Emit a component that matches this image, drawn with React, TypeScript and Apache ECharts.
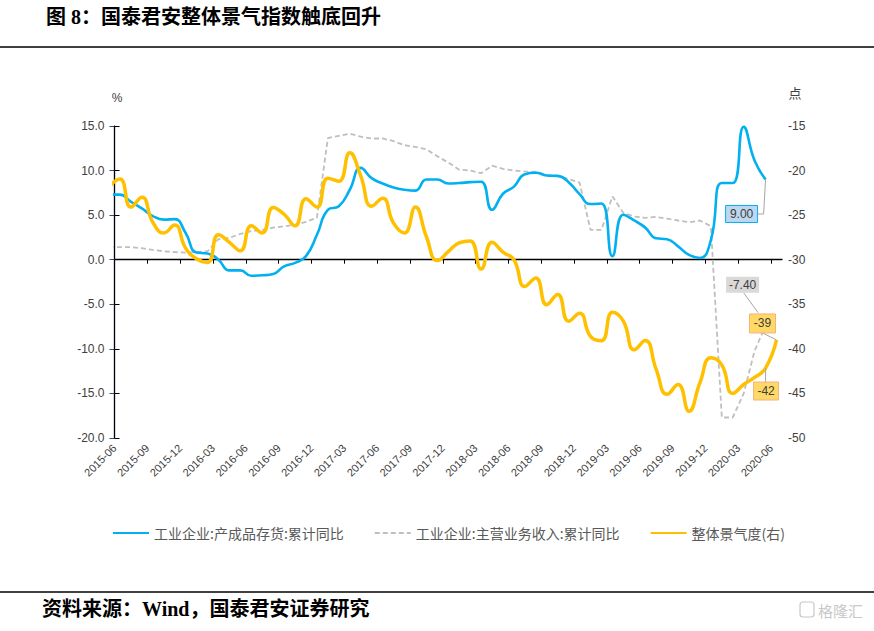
import React, { useEffect, useRef } from 'react';
import * as echarts from 'echarts';

// Axis tick labels (every 3 months)
const tickLabels = [
  '2015-06', '2015-09', '2015-12', '2016-03', '2016-06', '2016-09', '2016-12',
  '2017-03', '2017-06', '2017-09', '2017-12', '2018-03', '2018-06', '2018-09',
  '2018-12', '2019-03', '2019-06', '2019-09', '2019-12', '2020-03', '2020-06',
];

// Monthly categories, 2015-05 .. 2020-06
const months = [
  '2015-05', '2015-06', '2015-07', '2015-08', '2015-09', '2015-10', '2015-11', '2015-12',
  '2016-01', '2016-02', '2016-03', '2016-04', '2016-05', '2016-06', '2016-07', '2016-08', '2016-09', '2016-10', '2016-11', '2016-12',
  '2017-01', '2017-02', '2017-03', '2017-04', '2017-05', '2017-06', '2017-07', '2017-08', '2017-09', '2017-10', '2017-11', '2017-12',
  '2018-01', '2018-02', '2018-03', '2018-04', '2018-05', '2018-06', '2018-07', '2018-08', '2018-09', '2018-10', '2018-11', '2018-12',
  '2019-01', '2019-02', '2019-03', '2019-04', '2019-05', '2019-06', '2019-07', '2019-08', '2019-09', '2019-10', '2019-11', '2019-12',
  '2020-01', '2020-02', '2020-03', '2020-04', '2020-05', '2020-06',
];

// 工业企业:产成品存货:累计同比 (%), 2015-05 .. 2020-05
const inventoryYoY = [
  7.3, 7.3, 6.5, 5.75, 4.9, 4.5, 4.55, 3.0,
  0.8, 0.7, 0.0, -1.2, -1.2, -1.8, -1.75, -1.6, -0.75, -0.35, 0.4, 2.8,
  5.6, 6.0, 7.85, 10.3, 9.15, 8.55, 8.1, 7.85, 7.75, 9.0, 9.0, 8.55,
  8.6, 8.7, 8.75, 5.6, 7.4, 8.2, 9.6, 9.75, 9.45, 9.4, 8.7, 7.35,
  6.25, 6.3, 0.4, 5.05, 4.4, 3.6, 2.4, 2.3, 1.5, 0.55, 0.2, 2.2,
  8.6, 8.6, 14.9, 11.1, 9.0,
];

// 工业企业:主营业务收入:累计同比 (%), 2015-05 .. 2020-05
const revenueYoY = [
  1.42, 1.42, 1.4, 1.3, 1.1, 0.95, 0.85, 0.8,
  0.85, 0.95, 2.3, 2.45, 2.9, 3.2, 3.35, 3.6, 3.75, 3.9, 4.25, 4.7,
  13.65, 13.9, 14.15, 13.8, 13.6, 13.6, 13.3, 12.85, 12.65, 12.4, 11.6, 10.9,
  10.1, 10.0, 9.7, 10.55, 10.2, 10.0, 9.9, 9.85, 9.5, 9.4, 9.05, 8.65,
  3.35, 3.35, 7.1, 5.25, 4.85, 4.7, 4.8, 4.6, 4.4, 4.2, 4.4, 3.75,
  -17.7, -17.7, -15.0, -10.2, -7.4,
];

// 整体景气度 (右轴, 点), 2015-05 .. 2020-06
const prosperity = [
  -21.8, -20.95, -24.1, -23.0, -25.8, -27.0, -26.1, -28.7,
  -29.9, -30.3, -27.2, -28.05, -29.0, -26.2, -27.0, -24.15, -24.9, -26.2, -23.15, -24.1,
  -20.85, -21.2, -18.0, -20.6, -24.0, -23.1, -25.9, -27.0, -24.1, -27.4, -30.1, -29.1,
  -28.1, -27.9, -31.05, -28.05, -29.15, -30.0, -33.0, -32.05, -35.05, -33.9, -36.9, -36.0,
  -38.6, -39.1, -35.9, -36.9, -40.1, -39.05, -42.3, -45.1, -44.0, -47.0, -43.8, -41.0,
  -41.8, -45.0, -44.0, -43.2, -42.15, -39.0,
];

const seriesNames = ['工业企业:产成品存货:累计同比', '工业企业:主营业务收入:累计同比', '整体景气度(右)'];

// x position of a month: centred within its month (index 0 = 2015-05)
const pos = (k: number) => k - 0.5;
const tickValues = tickLabels.map((_, k) => k * 3);

export default function App() {
  const ref = useRef<HTMLDivElement>(null);

  useEffect(() => {
    if (!ref.current) return;
    const chart = echarts.init(ref.current, undefined, { renderer: 'svg' });

    const toPairs = (arr: number[]) => arr.map((v, k) => [pos(k), v]);
    const axisFont = "'Liberation Sans', Arial, sans-serif";
    const cjkFont = "'Noto Sans CJK SC', sans-serif";
    const titleFont = "'Liberation Serif', 'Noto Sans CJK SC', serif";

    const option: any = {
      animation: false,
      backgroundColor: '#ffffff',
      grid: { left: 114.5, right: 92, top: 126, bottom: 193, containLabel: false },
      legend: {
        top: 526,
        left: 112,
        padding: 0,
        itemWidth: 36,
        itemHeight: 14,
        itemGap: 30,
        itemStyle: { opacity: 0 },
        textStyle: { fontSize: 14, color: '#595959', fontFamily: cjkFont },
        data: seriesNames,
      },
      xAxis: [
        {
          type: 'value',
          min: 0,
          max: 61,
          position: 'bottom',
          axisLine: { show: true, onZero: true, onZeroAxisIndex: 0, lineStyle: { color: '#000000', width: 1.3 } },
          axisTick: { show: true, inside: false, length: 4, customValues: tickValues, lineStyle: { color: '#000000' } },
          axisLabel: { show: false },
          splitLine: { show: false },
        },
        {
          type: 'value',
          min: 0,
          max: 61,
          position: 'bottom',
          axisLine: { show: false, onZero: false },
          axisTick: { show: false },
          axisLabel: {
            show: true,
            rotate: 45,
            customValues: tickValues,
            formatter: (v: number) => tickLabels[Math.round(v / 3)] ?? '',
            fontSize: 11,
            color: '#404040',
            fontFamily: axisFont,
            margin: 8,
          },
          splitLine: { show: false },
        },
      ],
      yAxis: [
        {
          type: 'value',
          min: -20,
          max: 15,
          interval: 5,
          position: 'left',
          axisLine: { show: true, lineStyle: { color: '#2F4B7C', width: 1.2 } },
          axisTick: { show: true, length: 5, lineStyle: { color: '#2F4B7C' } },
          axisLabel: { formatter: (v: number) => v.toFixed(1), fontSize: 12, color: '#404040', fontFamily: axisFont, margin: 10 },
          splitLine: { show: false },
        },
        {
          type: 'value',
          min: -50,
          max: -15,
          interval: 5,
          position: 'right',
          axisLine: { show: true, lineStyle: { color: '#000000', width: 1.2 } },
          axisTick: { show: true, length: 5, lineStyle: { color: '#000000' } },
          axisLabel: { fontSize: 12, color: '#404040', fontFamily: axisFont, margin: 6 },
          splitLine: { show: false },
        },
      ],
      series: [
        {
          name: seriesNames[1],
          type: 'line',
          xAxisIndex: 0,
          yAxisIndex: 0,
          data: toPairs(revenueYoY),
          symbol: 'none',
          showSymbol: false,
          lineStyle: { color: '#BFBFBF', width: 1.8, type: [5, 3] },
          itemStyle: { color: '#BFBFBF' },
          z: 2,
        },
        {
          name: seriesNames[0],
          type: 'line',
          xAxisIndex: 0,
          yAxisIndex: 0,
          data: toPairs(inventoryYoY),
          smooth: 0.5,
          symbol: 'none',
          showSymbol: false,
          lineStyle: { color: '#00B0F0', width: 2.6 },
          itemStyle: { color: '#00B0F0' },
          z: 3,
        },
        {
          name: seriesNames[2],
          type: 'line',
          xAxisIndex: 0,
          yAxisIndex: 1,
          data: toPairs(prosperity),
          smooth: 0.5,
          symbol: 'none',
          showSymbol: false,
          lineStyle: { color: '#FFC000', width: 3.5 },
          itemStyle: { color: '#FFC000' },
          z: 4,
        },
      ],
    };

    chart.setOption(option);

    // Annotation boxes attached to the latest data points
    const nB = inventoryYoY.length - 1;
    const nG = revenueYoY.length - 1;
    const nO = prosperity.length - 1;
    const P = chart.convertToPixel({ xAxisIndex: 0, yAxisIndex: 0 }, [pos(nB), inventoryYoY[nB]]) as number[];
    const G = chart.convertToPixel({ xAxisIndex: 0, yAxisIndex: 0 }, [pos(nG), revenueYoY[nG]]) as number[];
    const O = chart.convertToPixel({ xAxisIndex: 0, yAxisIndex: 1 }, [pos(nO), prosperity[nO]]) as number[];
    const Q = chart.convertToPixel({ xAxisIndex: 0, yAxisIndex: 1 }, [pos(nO - 1), prosperity[nO - 1]]) as number[];

    const leader = { stroke: '#A6A6A6', lineWidth: 1 };
    const lblText = (x: number, y: number, t: string) => ({
      type: 'text', z: 101, x, y,
      style: { text: t, fill: '#404040', fontSize: 12, fontFamily: axisFont, align: 'center', verticalAlign: 'middle' },
    });

    const graphic: any[] = [
      // title and rules
      {
        type: 'text', x: 46, y: 17,
        style: { text: '图 8：国泰君安整体景气指数触底回升', fill: '#000', fontSize: 20, fontWeight: 'bold', fontFamily: titleFont, verticalAlign: 'middle' },
      },
      { type: 'line', shape: { x1: 0, y1: 47, x2: 874, y2: 47 }, style: { stroke: '#000', lineWidth: 1.3 } },
      { type: 'line', shape: { x1: 0, y1: 592, x2: 874, y2: 592 }, style: { stroke: '#000', lineWidth: 1.3 } },
      {
        type: 'text', x: 42, y: 609,
        style: { text: '资料来源：Wind，国泰君安证券研究', fill: '#000', fontSize: 20, fontWeight: 'bold', fontFamily: titleFont, verticalAlign: 'middle' },
      },
      // watermark
      { type: 'rect', shape: { x: 800, y: 602, width: 14, height: 15, r: 3 }, style: { fill: 'none', stroke: '#C8C8C8', lineWidth: 1.2 } },
      {
        type: 'text', x: 818, y: 610,
        style: { text: '格隆汇', fill: '#C8C8C8', fontSize: 15, fontFamily: cjkFont, verticalAlign: 'middle' },
      },
      // axis units
      { type: 'text', x: 117, y: 98, style: { text: '%', fill: '#404040', fontSize: 12, fontFamily: axisFont, align: 'center', verticalAlign: 'middle' } },
      { type: 'text', x: 795, y: 92, style: { text: '点', fill: '#404040', fontSize: 13, fontFamily: cjkFont, align: 'center', verticalAlign: 'middle' } },

      // blue label 9.00
      { type: 'polyline', z: 100, shape: { points: [[P[0] - 8, P[1] + 34.5], [P[0] - 2, P[1] + 34.5], [P[0], P[1]]] }, style: { ...leader, fill: 'none' } },
      { type: 'rect', z: 100, shape: { x: P[0] - 40, y: P[1] + 26, width: 32, height: 17 }, style: { fill: '#BDD7EE', stroke: '#00B0F0', lineWidth: 1 } },
      lblText(P[0] - 24, P[1] + 34.5, inventoryYoY[nB].toFixed(2)),

      // gray label -7.40
      { type: 'line', z: 100, shape: { x1: G[0] - 22, y1: G[1] - 33, x2: G[0] - 7.5, y2: G[1] - 13 }, style: leader },
      { type: 'rect', z: 100, shape: { x: G[0] - 39.5, y: G[1] - 49, width: 33, height: 16 }, style: { fill: '#D9D9D9' } },
      lblText(G[0] - 23, G[1] - 41, revenueYoY[nG].toFixed(2)),

      // orange label (latest)
      { type: 'line', z: 100, shape: { x1: O[0] - 14, y1: O[1] - 7, x2: O[0], y2: O[1] }, style: leader },
      { type: 'rect', z: 100, shape: { x: O[0] - 27, y: O[1] - 26, width: 26, height: 19 }, style: { fill: '#FFD966', stroke: '#F4B183', lineWidth: 1 } },
      lblText(O[0] - 14, O[1] - 16.5, prosperity[nO].toFixed(0)),

      // orange label (previous month)
      { type: 'line', z: 100, shape: { x1: Q[0], y1: Q[1] + 14, x2: Q[0], y2: Q[1] }, style: leader },
      { type: 'rect', z: 100, shape: { x: Q[0] - 12, y: Q[1] + 14, width: 25, height: 18 }, style: { fill: '#FFD966', stroke: '#F4B183', lineWidth: 1 } },
      lblText(Q[0] + 0.5, Q[1] + 23, prosperity[nO - 1].toFixed(0)),
    ];

    chart.setOption({ graphic });

    return () => chart.dispose();
  }, []);

  return (
    <div
      ref={ref}
      data-months={months.length}
      style={{ position: 'fixed', left: 0, top: 0, width: 874, height: 631, background: '#fff' }}
    />
  );
}
